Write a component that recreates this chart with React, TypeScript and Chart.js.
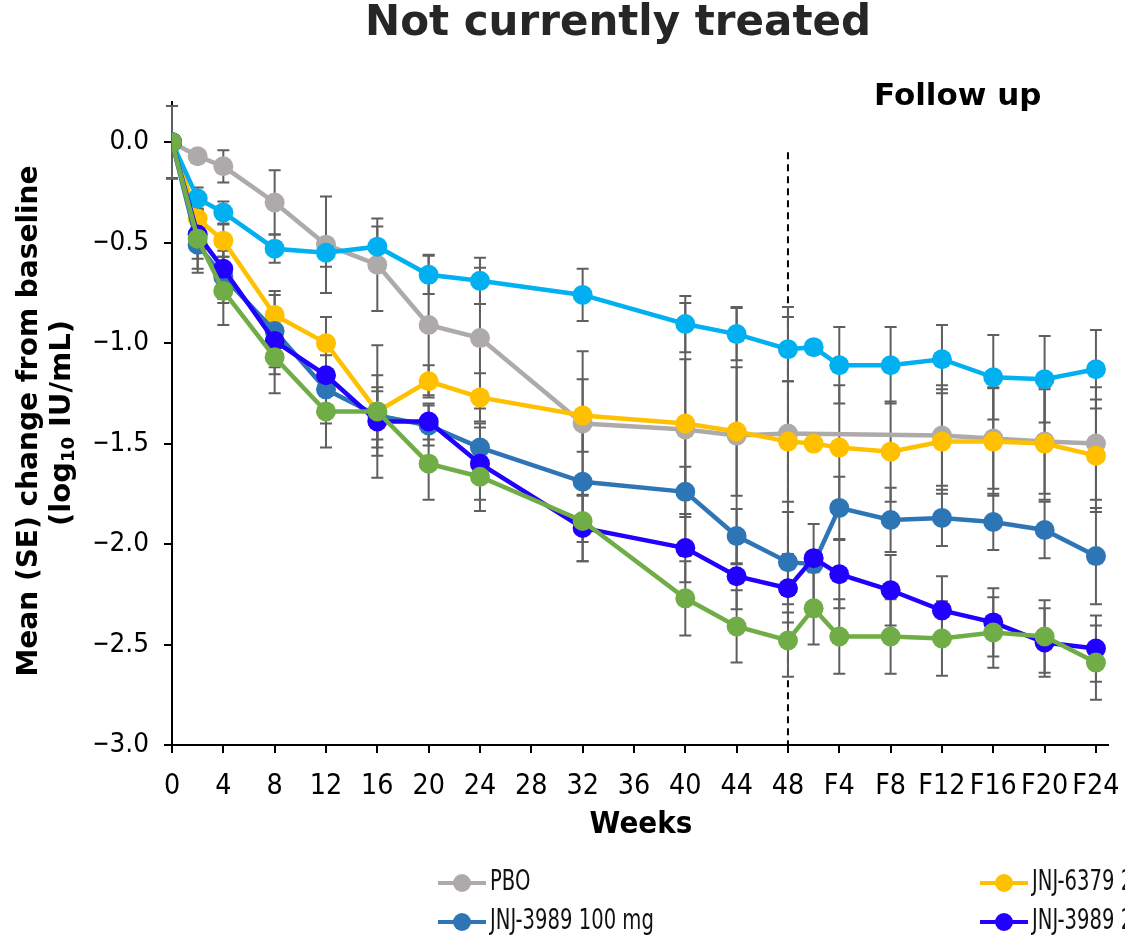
import React, { useEffect, useRef } from 'react';
import { Chart, registerables } from 'chart.js';

Chart.register(...registerables);

// ---- data ----
const weeks = [0, 2, 4, 8, 12, 16, 20, 24, 32, 40, 44, 48, 50, 52, 56, 60, 64, 68, 72];
const xTickValues = [0, 4, 8, 12, 16, 20, 24, 28, 32, 36, 40, 44, 48, 52, 56, 60, 64, 68, 72];
const xTickLabels = ['0', '4', '8', '12', '16', '20', '24', '28', '32', '36', '40', '44', '48', 'F4', 'F8', 'F12', 'F16', 'F20', 'F24'];
const yTickValues = [0, -0.5, -1.0, -1.5, -2.0, -2.5, -3.0];
const yTickLabels = ['0.0', '\u22120.5', '\u22121.0', '\u22121.5', '\u22122.0', '\u22122.5', '\u22123.0'];

const pboMean = [0, -0.07, -0.12, -0.30, -0.51, -0.61, -0.91, -0.975, -1.40, -1.43, -1.46, -1.45, null, null, null, -1.46, -1.475, -1.49, -1.50];
const pboSE = [0.18, 0.03, 0.08, 0.16, 0.24, 0.23, 0.35, 0.35, 0.36, 0.63, 0.64, 0.63, null, null, null, 0.25, 0.25, 0.26, 0.28];

const j6379Mean = [0, -0.38, -0.49, -0.86, -1.00, -1.34, -1.19, -1.27, -1.36, -1.40, -1.44, -1.49, -1.50, -1.52, -1.54, -1.49, -1.49, -1.50, -1.56];
const j6379SE = [0.18, 0.10, 0.08, 0.12, 0.13, 0.33, 0.08, 0.12, 0.18, 0.32, 0.32, 0.30, null, 0.31, 0.25, 0.26, 0.27, 0.28, 0.28];

const j40Mean = [0, -0.28, -0.35, -0.53, -0.55, -0.52, -0.66, -0.69, -0.76, -0.905, -0.955, -1.03, -1.02, -1.11, -1.11, -1.08, -1.17, -1.18, -1.13];
const j40SE = [0.18, 0.055, 0.055, 0.07, 0.07, 0.10, 0.095, 0.115, 0.13, 0.14, 0.13, 0.16, null, 0.19, 0.19, 0.17, 0.21, 0.215, 0.195];

const j100Mean = [0, -0.51, -0.67, -0.94, -1.23, -1.36, -1.41, -1.52, -1.69, -1.74, -1.96, -2.09, -2.10, -1.82, -1.88, -1.87, -1.89, -1.93, -2.06];
const j100SE = [0.18, 0.14, 0.13, 0.18, 0.17, 0.12, 0.10, 0.12, 0.30, 0.125, 0.135, 0.25, 0.20, 0.155, 0.16, 0.14, 0.14, 0.14, 0.24];

const j200Mean = [0, -0.46, -0.63, -0.99, -1.16, -1.39, -1.39, -1.60, -1.92, -2.02, -2.16, -2.22, -2.07, -2.15, -2.23, -2.33, -2.39, -2.49, -2.52];
const j200SE = [0.18, 0.12, 0.15, 0.165, 0.18, 0.17, 0.09, 0.18, 0.165, 0.17, 0.165, 0.17, null, 0.17, 0.175, 0.17, 0.17, 0.17, 0.165];

const comboMean = [0, -0.48, -0.74, -1.07, -1.34, -1.34, -1.60, -1.665, -1.885, -2.27, -2.41, -2.48, -2.32, -2.46, -2.46, -2.47, -2.44, -2.46, -2.59];
const comboSE = [0.18, 0.15, 0.17, 0.18, 0.18, 0.18, 0.18, 0.17, 0.20, 0.185, 0.18, 0.18, 0.18, 0.185, 0.185, 0.185, 0.175, 0.18, 0.185];

const seriesNames = ['PBO', 'JNJ-6379 250 mg', 'JNJ-3989 100 mg', 'JNJ-3989 200 mg', 'JNJ-3989 40 mg', 'JNJ-3989 100 mg + JNJ-6379 250 mg'];
const seriesColors = ['#AEAAAA', '#FFC000', '#2E75B6', '#2200FF', '#00B0F0', '#70AD47'];
const seriesMeans = [pboMean, j6379Mean, j100Mean, j200Mean, j40Mean, comboMean];
const seriesSEs = [pboSE, j6379SE, j100SE, j200SE, j40SE, comboSE];
const drawOrder = [6, 5, 3, 2, 4, 1];

const FONT = '"DejaVu Sans", Verdana, sans-serif';
const W = 1125;
const H = 940;

function drawScaledText(ctx: CanvasRenderingContext2D, text: string, x: number, y: number, font: string, align: CanvasTextAlign, sx: number, color: string) {
  ctx.save();
  ctx.translate(x, y);
  ctx.scale(sx, 1);
  ctx.font = font;
  ctx.fillStyle = color;
  ctx.textAlign = align;
  ctx.textBaseline = 'middle';
  ctx.fillText(text, 0, 0);
  ctx.restore();
}

const errorBarPlugin = {
  id: 'errorBars',
  beforeDatasetsDraw(chart: any) {
    const { ctx, scales, chartArea } = chart;
    const x = scales.x;
    const y = scales.y;
    ctx.save();
    // dashed follow-up separator
    ctx.strokeStyle = '#000';
    ctx.lineWidth = 2;
    ctx.setLineDash([7, 5]);
    const px48 = x.getPixelForValue(48);
    ctx.beginPath();
    ctx.moveTo(px48, y.getPixelForValue(-0.05));
    ctx.lineTo(px48, chartArea.bottom);
    ctx.stroke();
    ctx.setLineDash([]);
    // error bars
    ctx.strokeStyle = '#5F5F5F';
    ctx.lineWidth = 2;
    seriesMeans.forEach((means, s) => {
      const ses = seriesSEs[s];
      means.forEach((m, i) => {
        const se = ses[i];
        if (m == null || se == null) return;
        const px = x.getPixelForValue(weeks[i]);
        const yt = y.getPixelForValue(m + se);
        const yb = y.getPixelForValue(m - se);
        ctx.beginPath();
        ctx.moveTo(px, yt);
        ctx.lineTo(px, yb);
        ctx.moveTo(px - 6, yt);
        ctx.lineTo(px + 6, yt);
        ctx.moveTo(px - 6, yb);
        ctx.lineTo(px + 6, yb);
        ctx.stroke();
      });
    });
    ctx.restore();
  },
};

const textPlugin = {
  id: 'texts',
  afterDraw(chart: any) {
    const { ctx, scales } = chart;
    const x = scales.x;
    const y = scales.y;
    ctx.save();
    // title
    drawScaledText(ctx, 'Not currently treated', 618, 24, `bold 42px ${FONT}`, 'center', 1, '#262626');
    drawScaledText(ctx, 'Follow up', 874, 97, `bold 31px ${FONT}`, 'left', 1, '#000');
    // x tick labels
    xTickValues.forEach((v, i) => {
      drawScaledText(ctx, xTickLabels[i], x.getPixelForValue(v), 786, `29px ${FONT}`, 'center', 0.88, '#000');
    });
    // y tick labels (sign drawn slightly narrower, as in the original)
    yTickValues.forEach((v, i) => {
      const label = yTickLabels[i];
      const py = y.getPixelForValue(v);
      const neg = label.startsWith('\u2212');
      const digits = neg ? label.slice(1) : label;
      ctx.save();
      ctx.font = `27px ${FONT}`;
      const dw = ctx.measureText(digits).width * 0.92;
      ctx.restore();
      drawScaledText(ctx, digits, 149, py, `27px ${FONT}`, 'right', 0.92, '#000');
      if (neg) drawScaledText(ctx, '\u2212', 149 - dw, py, `27px ${FONT}`, 'right', 0.75, '#000');
    });
    // x title
    drawScaledText(ctx, 'Weeks', 641, 825, `bold 30px ${FONT}`, 'center', 0.93, '#000');
    // y title
    ctx.save();
    ctx.translate(30, 421);
    ctx.rotate(-Math.PI / 2);
    ctx.font = `bold 28px ${FONT}`;
    ctx.fillStyle = '#000';
    ctx.textAlign = 'center';
    ctx.textBaseline = 'middle';
    ctx.fillText('Mean (SE) change from baseline', 0, 0);
    ctx.restore();
    ctx.save();
    ctx.translate(62, 423);
    ctx.rotate(-Math.PI / 2);
    ctx.fillStyle = '#000';
    ctx.textBaseline = 'middle';
    ctx.textAlign = 'left';
    const big = `bold 29px ${FONT}`;
    const small = `bold 18px ${FONT}`;
    const p1 = '(log';
    const p2 = '10';
    const p3 = ' IU/mL)';
    ctx.font = big;
    const w1 = ctx.measureText(p1).width;
    const w3 = ctx.measureText(p3).width;
    ctx.font = small;
    const w2 = ctx.measureText(p2).width;
    const total = w1 + w2 + w3;
    let cx = -total / 2;
    ctx.font = big;
    ctx.fillText(p1, cx, 0);
    cx += w1;
    ctx.font = small;
    ctx.fillText(p2, cx, 7);
    cx += w2;
    ctx.font = big;
    ctx.fillText(p3, cx, 0);
    ctx.restore();
    // legend
    const colX = [438, 980];
    const rowY = [883, 922, 961];
    seriesNames.forEach((name, i) => {
      const col = i % 2;
      const row = Math.floor(i / 2);
      const lx = colX[col];
      const ly = rowY[row];
      ctx.save();
      ctx.strokeStyle = seriesColors[i];
      ctx.lineWidth = 4;
      ctx.beginPath();
      ctx.moveTo(lx, ly);
      ctx.lineTo(lx + 48, ly);
      ctx.stroke();
      ctx.fillStyle = seriesColors[i];
      ctx.beginPath();
      ctx.arc(lx + 24, ly, 9, 0, Math.PI * 2);
      ctx.fill();
      ctx.restore();
      drawScaledText(ctx, name, lx + 52, ly, `28px ${FONT}`, 'left', 0.7, '#111');
    });
    ctx.restore();
  },
};

export default function App() {
  const canvasRef = useRef<HTMLCanvasElement | null>(null);

  useEffect(() => {
    document.body.style.margin = '0';
    const canvas = canvasRef.current;
    if (!canvas) return;
    const datasets = seriesNames.map((name, i) => ({
      label: name,
      data: seriesMeans[i].map((m, j) => ({ x: weeks[j], y: m })),
      borderColor: seriesColors[i],
      backgroundColor: seriesColors[i],
      pointBackgroundColor: seriesColors[i],
      pointBorderColor: seriesColors[i],
      pointBorderWidth: 0,
      pointRadius: 10,
      borderWidth: 4.5,
      spanGaps: true,
      order: drawOrder[i],
      tension: 0,
    }));
    const chart = new Chart(canvas, {
      type: 'line',
      data: { datasets },
      options: {
        responsive: false,
        animation: false,
        devicePixelRatio: 1,
        layout: { padding: { top: 102, right: 17, left: 0, bottom: 0 } },
        plugins: {
          legend: { display: false },
          title: { display: false },
          tooltip: { enabled: false },
        },
        scales: {
          x: {
            type: 'linear',
            min: 0,
            max: 72.94,
            afterBuildTicks: (scale: any) => {
              scale.ticks = xTickValues.map((v) => ({ value: v }));
            },
            afterFit: (scale: any) => {
              scale.height = 195;
            },
            ticks: { autoSkip: false, callback: () => '', font: { size: 1 } },
            grid: { display: true, drawOnChartArea: false, drawTicks: true, tickLength: 8, color: '#000', lineWidth: 2 },
            border: { display: true, color: '#000', width: 2 },
          },
          y: {
            type: 'linear',
            min: -3.0,
            max: 0.2,
            afterBuildTicks: (scale: any) => {
              scale.ticks = yTickValues.map((v) => ({ value: v }));
            },
            afterFit: (scale: any) => {
              scale.width = 172;
            },
            ticks: { autoSkip: false, callback: () => '', font: { size: 1 } },
            grid: { display: true, drawOnChartArea: false, drawTicks: true, tickLength: 8, color: '#000', lineWidth: 2 },
            border: { display: true, color: '#000', width: 2 },
          },
        },
      },
      plugins: [errorBarPlugin, textPlugin],
    } as any);
    return () => chart.destroy();
  }, []);

  return (
    <div style={{ width: W, height: H, overflow: 'hidden', background: '#fff' }}>
      <canvas ref={canvasRef} width={W} height={H} style={{ display: 'block' }} />
    </div>
  );
}
